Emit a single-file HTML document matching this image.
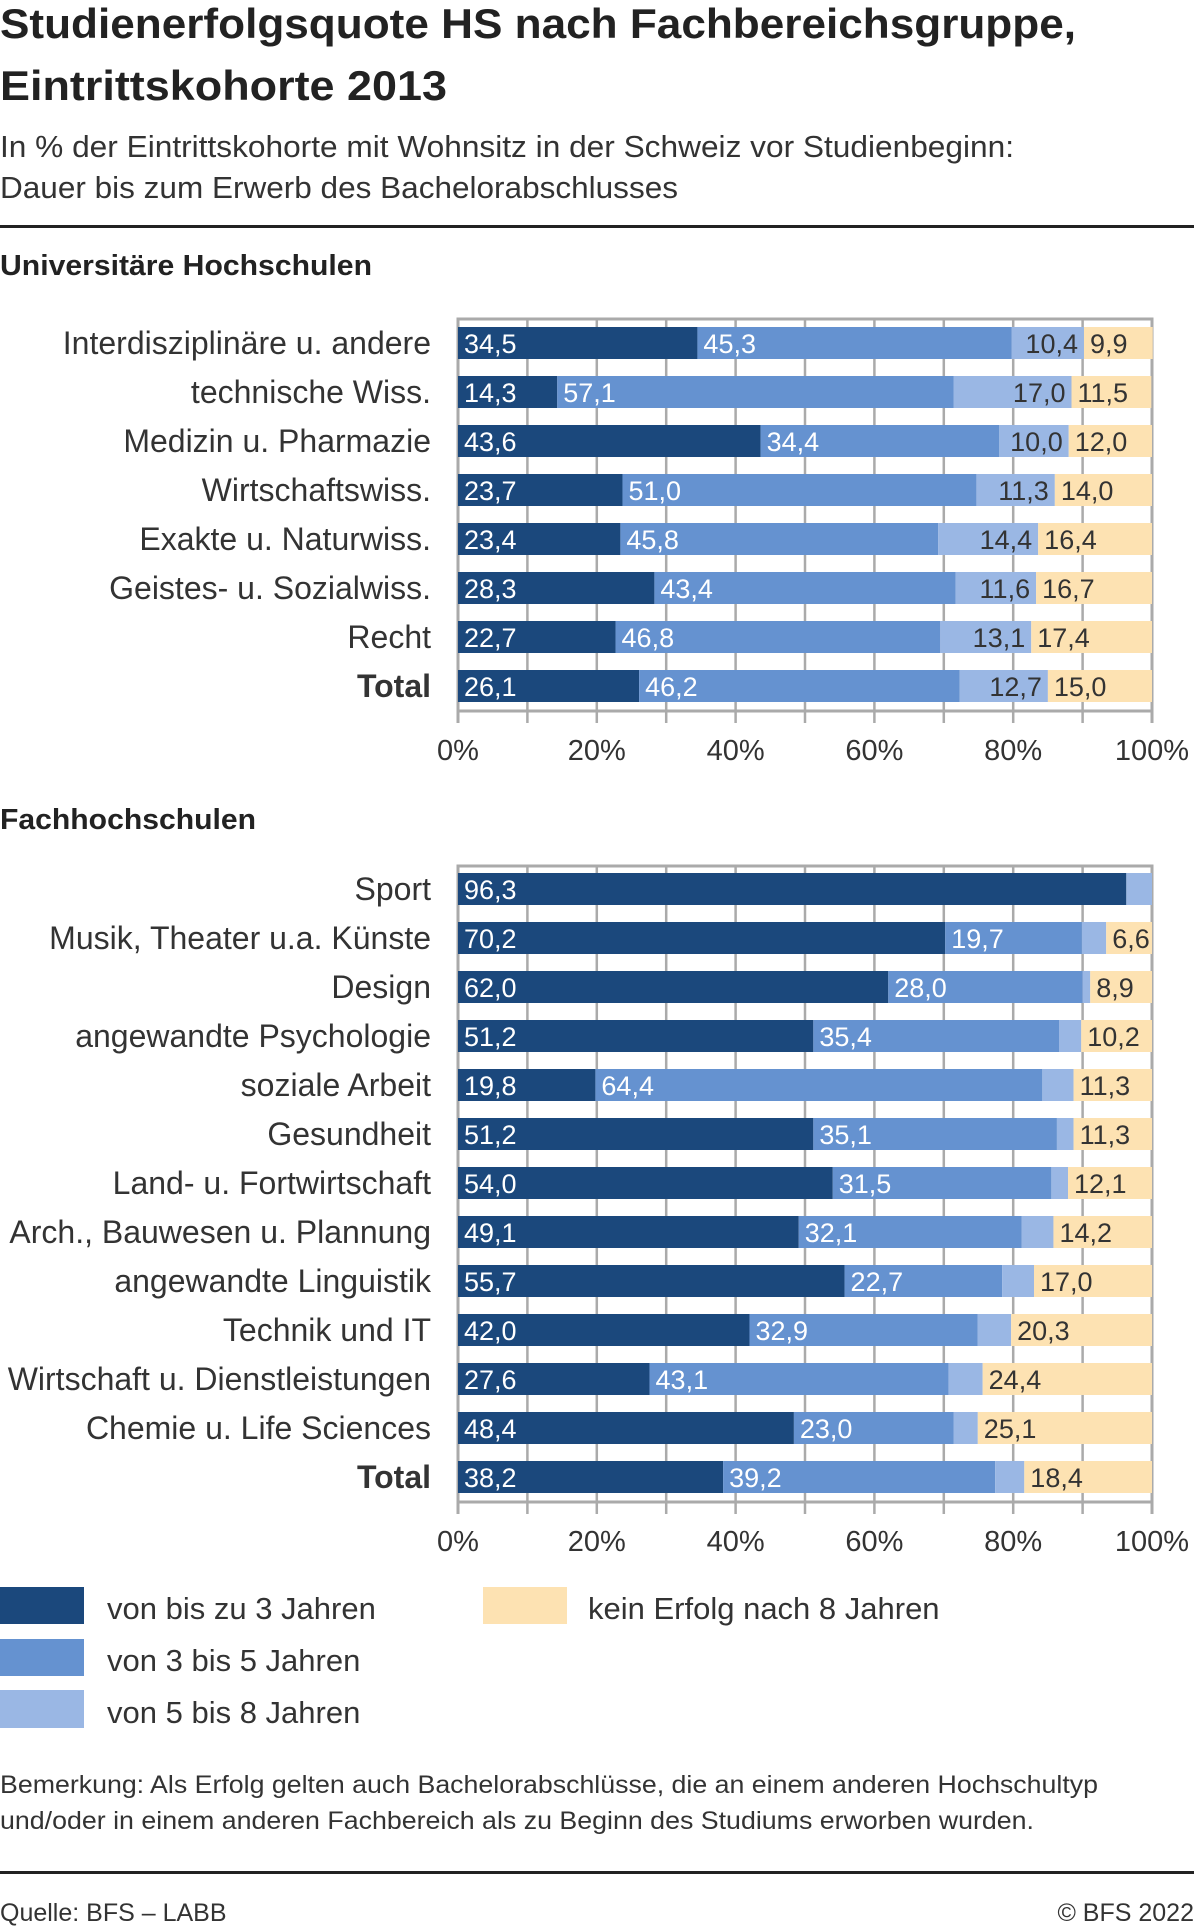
<!DOCTYPE html>
<html><head><meta charset="utf-8"><style>
html,body{margin:0;padding:0;background:#fff;}
svg{display:block;font-family:"Liberation Sans",sans-serif;}
.n{font-family:"Liberation Sans Narrow","Liberation Sans",sans-serif;}
</style></head><body>
<svg id="chart" width="1194" height="1928" viewBox="0 0 1194 1928">
<text x="0" y="38" font-size="42" font-weight="bold" fill="#222" textLength="1076" lengthAdjust="spacingAndGlyphs">Studienerfolgsquote HS nach Fachbereichsgruppe,</text>
<text x="0" y="100" font-size="42" font-weight="bold" fill="#222" textLength="447" lengthAdjust="spacingAndGlyphs">Eintrittskohorte 2013</text>
<text x="0" y="157" font-size="31" fill="#333" textLength="1014" lengthAdjust="spacingAndGlyphs">In % der Eintrittskohorte mit Wohnsitz in der Schweiz vor Studienbeginn:</text>
<text x="0" y="198" font-size="31" fill="#333" textLength="678" lengthAdjust="spacingAndGlyphs">Dauer bis zum Erwerb des Bachelorabschlusses</text>
<rect x="0" y="225" width="1194" height="3" fill="#222"/>
<text x="0" y="275" font-size="29" font-weight="bold" fill="#222" textLength="372" lengthAdjust="spacingAndGlyphs">Universitäre Hochschulen</text>
<text x="0" y="829" font-size="29" font-weight="bold" fill="#222" textLength="256" lengthAdjust="spacingAndGlyphs">Fachhochschulen</text>
<g id="uh"></g>
<g id="fh"></g>
<g>
<rect x="0" y="1587" width="84" height="37" fill="#1b487c"/>
<text x="107" y="1619" font-size="31" fill="#333">von bis zu 3 Jahren</text>
<rect x="0" y="1639" width="84" height="37" fill="#6592d0"/>
<text x="107" y="1671" font-size="31" fill="#333">von 3 bis 5 Jahren</text>
<rect x="0" y="1690" width="84" height="38" fill="#9ab7e4"/>
<text x="107" y="1723" font-size="31" fill="#333">von 5 bis 8 Jahren</text>
<rect x="483" y="1587" width="84" height="37" fill="#fde2b2"/>
<text x="588" y="1619" font-size="31" fill="#333">kein Erfolg nach 8 Jahren</text>
</g>
<text x="0" y="1793" font-size="25" fill="#333" textLength="1098" lengthAdjust="spacingAndGlyphs">Bemerkung: Als Erfolg gelten auch Bachelorabschlüsse, die an einem anderen Hochschultyp</text>
<text x="0" y="1829" font-size="25" fill="#333" textLength="1034" lengthAdjust="spacingAndGlyphs">und/oder in einem anderen Fachbereich als zu Beginn des Studiums erworben wurden.</text>
<rect x="0" y="1871" width="1194" height="3" fill="#222"/>
<text x="0" y="1921" font-size="25" fill="#333">Quelle: BFS – LABB</text>
<text x="1194" y="1921" font-size="25" fill="#333" text-anchor="end">© BFS 2022</text>
</svg>
<script>
const uhCategories=["Interdisziplinäre u. andere","technische Wiss.","Medizin u. Pharmazie","Wirtschaftswiss.","Exakte u. Naturwiss.","Geistes- u. Sozialwiss.","Recht","Total"];
const uhS1=[34.5,14.3,43.6,23.7,23.4,28.3,22.7,26.1];
const uhS2=[45.3,57.1,34.4,51.0,45.8,43.4,46.8,46.2];
const uhS3=[10.4,17.0,10.0,11.3,14.4,11.6,13.1,12.7];
const uhS4=[9.9,11.5,12.0,14.0,16.4,16.7,17.4,15.0];
const fhCategories=["Sport","Musik, Theater u.a. Künste","Design","angewandte Psychologie","soziale Arbeit","Gesundheit","Land- u. Fortwirtschaft","Arch., Bauwesen u. Plannung","angewandte Linguistik","Technik und IT","Wirtschaft u. Dienstleistungen","Chemie u. Life Sciences","Total"];
const fhS1=[96.3,70.2,62.0,51.2,19.8,51.2,54.0,49.1,55.7,42.0,27.6,48.4,38.2];
const fhS2=[0,19.7,28.0,35.4,64.4,35.1,31.5,32.1,22.7,32.9,43.1,23.0,39.2];
const fhS3=[3.7,3.5,1.1,3.2,4.5,2.4,2.4,4.6,4.6,4.8,4.9,3.5,4.2];
const fhS4=[0,6.6,8.9,10.2,11.3,11.3,12.1,14.2,17.0,20.3,24.4,25.1,18.4];
const tickLabels=["0%","20%","40%","60%","80%","100%"];
const NS="http://www.w3.org/2000/svg";
const X0=458,X1=1152;
function xs(v){return X0+(X1-X0)*v/100;}
function mk(g,tag,a){const e=document.createElementNS(NS,tag);for(const k in a)e.setAttribute(k,a[k]);g.appendChild(e);return e;}
function fmt(v){return v.toFixed(1).replace('.',',');}
const colors=["#1b487c","#6592d0","#9ab7e4","#fde2b2"];
const tcol=["#fff","#fff","#333","#333"];
function draw(id,cats,series,top,firstC,bottom,tickY){
 const g=document.getElementById(id);
 const pitch=49,bh=32;
 mk(g,'rect',{x:X0,y:top,width:X1-X0,height:bottom-top,fill:'none',stroke:'#aaa','stroke-width':3});
 for(let t=10;t<100;t+=10){const l=mk(g,'line',{x1:xs(t),x2:xs(t),y1:top,y2:bottom+12,stroke:'#aaa','stroke-width':2.5});
 
 }
 for(const t of [0,100]){mk(g,'line',{x1:xs(t),x2:xs(t),y1:bottom,y2:bottom+12,stroke:'#aaa','stroke-width':3});}
 tickLabels.forEach((s,i)=>{const t=mk(g,'text',{x:xs(i*20),y:tickY,'font-size':29,fill:'#333','text-anchor':'middle'});t.textContent=s;
 
 });
 cats.forEach((c,i)=>{
  const cy=firstC+i*pitch;
  const lt=mk(g,'text',{x:431,y:cy+11,'font-size':32,fill:'#333','text-anchor':'end','font-weight':c==='Total'?'bold':'normal'});lt.textContent=c;
  
  
  let acc=0;
  series.forEach((s,k)=>{
   const v=s[i];if(v<=0)return;
   const r=mk(g,'rect',{x:xs(acc),y:cy-bh/2,width:xs(acc+v)-xs(acc),height:bh,fill:colors[k]});
   
   
   if(v>=5){
    let tx,anc;
    if(k===2){tx=xs(acc+v)-6;anc='end';}else{tx=xs(acc)+6;anc='start';}
    const t=mk(g,'text',{x:tx,y:cy+10,'font-size':27,fill:tcol[k],'text-anchor':anc,'class':'n'});t.textContent=fmt(v);
    
    
   }
   acc+=v;
  });
 });
}
draw('uh',uhCategories,[uhS1,uhS2,uhS3,uhS4],319,343,711,760);
draw('fh',fhCategories,[fhS1,fhS2,fhS3,fhS4],866,889,1502,1551);
</script>
</body></html>
